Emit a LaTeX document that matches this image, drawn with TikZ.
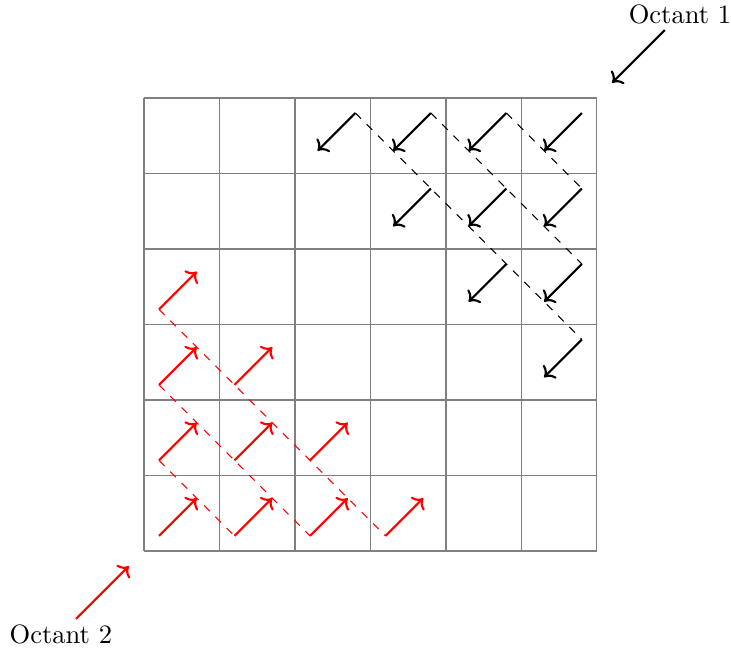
\documentclass[tikz,border=0pt]{standalone}
\usetikzlibrary{arrows.meta}
\begin{document}
\begin{tikzpicture}[x=1cm,y=1cm,
  gridline/.style={gray,line width=0.4pt},
  blackarrow/.style={thick,->,black},
  redarrow/.style={thick,->,red},
  blackdash/.style={dashed,black},
  reddash/.style={dashed,red}]
\useasboundingbox (-1.907,-1.311) rectangle (7.775,7.298);
\draw[gridline] (0,0) grid (6,6);
% black arrows (octant 1)
\foreach \c/\r in {2/5,3/5,4/5,5/5,3/4,4/4,5/4,4/3,5/3,5/2}{
  \coordinate (bs\c\r) at (\c+0.8,\r+0.8);
  \coordinate (be\c\r) at (\c+0.3,\r+0.3);
  \draw[blackarrow] (bs\c\r) -- (be\c\r);
}
\draw[blackdash] (bs25) -- (bs52);
\draw[blackdash] (bs35) -- (bs53);
\draw[blackdash] (bs45) -- (bs54);
% red arrows (octant 2)
\foreach \c/\r in {0/3,0/2,1/2,0/1,1/1,2/1,0/0,1/0,2/0,3/0}{
  \coordinate (rs\c\r) at (\c+0.2,\r+0.2);
  \coordinate (re\c\r) at (\c+0.7,\r+0.7);
  \draw[redarrow] (rs\c\r) -- (re\c\r);
}
\draw[reddash] (rs03) -- (rs30);
\draw[reddash] (rs02) -- (rs20);
\draw[reddash] (rs01) -- (rs10);
% labels
\node (o1) at (7.1,7.1) {Octant 1};
\coordinate (o1s) at (6.9,6.9);
\coordinate (o1e) at (6.2,6.2);
\draw[blackarrow] (o1s) -- (o1e);
\node (o2) at (-1.1,-1.1) {Octant 2};
\coordinate (o2s) at (-0.9,-0.9);
\coordinate (o2e) at (-0.2,-0.2);
\draw[redarrow] (o2s) -- (o2e);
\end{tikzpicture}
\end{document}
